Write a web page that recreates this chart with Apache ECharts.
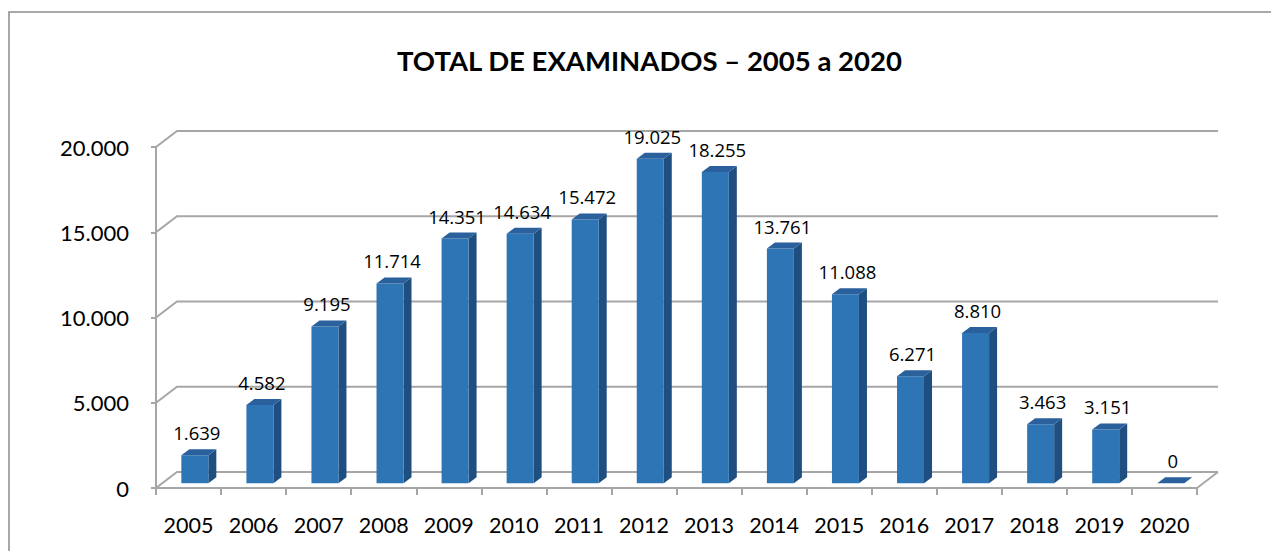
<!DOCTYPE html>
<html lang="pt">
<head>
    <title>Total de examinados</title>
    <meta charset="utf-8">
    <script src="https://cdn.jsdelivr.net/npm/echarts@6/dist/echarts.min.js"></script>
    <style>
        html, body { margin: 0; padding: 0; background: #fff; }
        #chart { width: 1271px; height: 551px; }
    </style>
</head>
<body>
<div id="chart"></div>
<script type="text/javascript">
    // dados
    var anos = ['2005', '2006', '2007', '2008', '2009', '2010', '2011', '2012',
        '2013', '2014', '2015', '2016', '2017', '2018', '2019', '2020'];
    var examinados = [1639, 4582, 9195, 11714, 14351, 14634, 15472, 19025,
        18255, 13761, 11088, 6271, 8810, 3463, 3151, 0];
    var yTicks = [0, 5000, 10000, 15000, 20000];

    // deslocamento da parede do fundo (efeito 3D)
    var DX = 21, DY = -16;
    var GRID_COLOR = '#a6a6a6';

    function fmt(v) {
        return String(v).replace(/\B(?=(\d{3})+(?!\d))/g, '.');
    }

    var myChart = echarts.init(document.getElementById('chart'), null, {renderer: 'svg'});

    function renderGrid(params, api) {
        var cs = params.coordSys;
        var v = api.value(0);
        var p = api.coord([0, v]);
        var y = p[1];
        var x0 = cs.x, x1 = cs.x + cs.width;
        var children = [{
            type: 'polyline',
            shape: {points: [[x0, y], [x0 + DX, y + DY], [x1 + DX, y + DY]]},
            style: {stroke: GRID_COLOR, lineWidth: 2, fill: null}
        }];
        if (v === 0) {
            children.push({
                type: 'line',
                shape: {x1: x1, y1: y, x2: x1 + DX, y2: y + DY},
                style: {stroke: GRID_COLOR, lineWidth: 2}
            });
        }
        return {type: 'group', children: children};
    }

    function renderBar(params, api) {
        var idx = api.value(0);
        var val = api.value(1);
        var base = api.coord([idx, 0]);
        var top = api.coord([idx, val]);
        var sx = DX * 0.3, sy = DY * 0.3;
        var w = 27, dx = 8, dy = -6;
        var l = base[0] - w / 2 + sx, r = l + w;
        var yb = base[1] + sy, yt = top[1] + sy;
        return {
            type: 'group',
            children: [
                {
                    type: 'polygon',
                    shape: {points: [[r, yb], [r + dx, yb + dy], [r + dx, yt + dy], [r, yt]]},
                    style: {fill: '#1f4e80'}
                },
                {
                    type: 'rect',
                    shape: {x: l, y: yt, width: w, height: Math.max(yb - yt, 0)},
                    style: {fill: '#2e75b6'}
                },
                {
                    type: 'polygon',
                    shape: {points: [[l, yt], [l + dx, yt + dy], [r + dx, yt + dy], [r, yt]]},
                    style: {fill: '#2a609c'}
                },
                {
                    type: 'text',
                    style: {
                        x: (l + r) / 2 + 2, y: yt + dy - 7,
                        text: fmt(val),
                        align: 'center', verticalAlign: 'bottom',
                        fontFamily: 'Open Sans', fontSize: 18.5, fill: '#000'
                    }
                }
            ]
        };
    }

    var option = {
        backgroundColor: '#fff',
        animation: false,
        title: {
            text: 'TOTAL DE EXAMINADOS – 2005 a 2020',
            left: 392,
            top: 41,
            textStyle: {fontFamily: 'Lato', fontWeight: 'bold', fontSize: 27.5, color: '#000'}
        },
        graphic: [{
            type: 'rect',
            shape: {x: 9, y: 12, width: 1300, height: 600},
            style: {fill: null, stroke: '#8c8c8c', lineWidth: 1.5},
            silent: true
        }],
        grid: {left: 156, right: 74, top: 147, bottom: 63},
        xAxis: {
            type: 'category',
            data: anos,
            axisLine: {lineStyle: {color: GRID_COLOR, width: 2}},
            axisTick: {show: true, interval: 0, length: 7, lineStyle: {color: GRID_COLOR, width: 2}},
            axisLabel: {interval: 0, hideOverlap: false, color: '#000', fontFamily: 'Lato', fontSize: 21.5, margin: 26}
        },
        yAxis: {
            type: 'value',
            min: 0,
            max: 20000,
            interval: 5000,
            axisLine: {show: true, lineStyle: {color: GRID_COLOR, width: 2}},
            axisTick: {show: true, length: 5, lineStyle: {color: GRID_COLOR, width: 2}},
            splitLine: {show: false},
            axisLabel: {color: '#000', fontFamily: 'Lato', fontSize: 22, margin: 27, formatter: fmt}
        },
        series: [
            {
                type: 'custom',
                z: 1,
                renderItem: renderGrid,
                data: yTicks.map(function (t) { return [t]; }),
                encode: {y: 0},
                silent: true
            },
            {
                type: 'custom',
                z: 5,
                renderItem: renderBar,
                data: examinados.map(function (v, i) { return [i, v]; }),
                encode: {x: 0, y: 1}
            }
        ]
    };

    myChart.setOption(option);
</script>
</body>
</html>
